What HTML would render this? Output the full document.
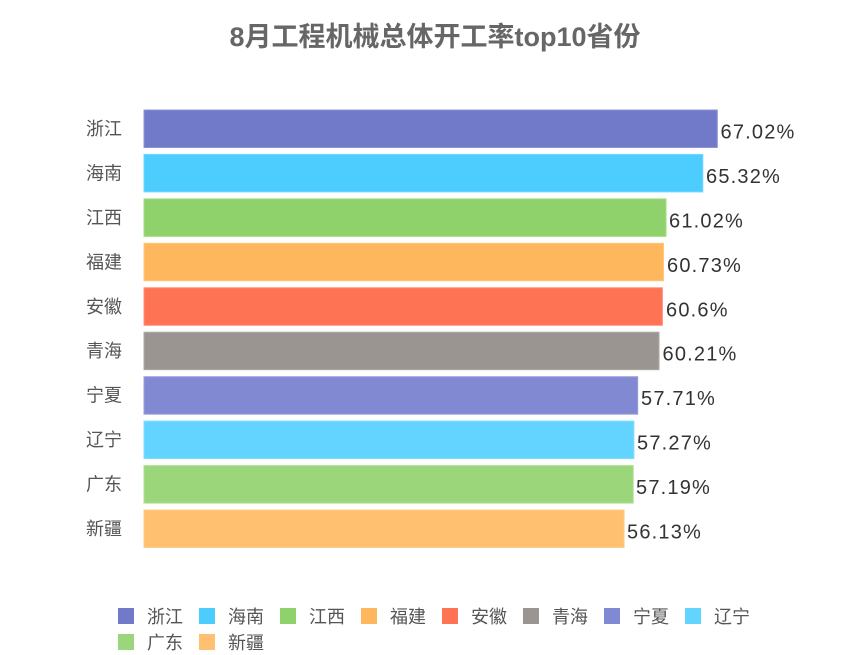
<!DOCTYPE html>
<html>
<head>
<meta charset="utf-8">
<style>
  html, body { margin: 0; padding: 0; background: #ffffff; }
  body { width: 864px; height: 655px; overflow: hidden; }
  svg { display: block; }
  .cat { font-family: "Liberation Sans", "Noto Sans CJK SC", sans-serif; font-size: 18px; fill: #555555; }
  .val { font-family: "Liberation Sans", "Noto Sans CJK SC", sans-serif; font-size: 20px; fill: #333333; letter-spacing: 1.2px; }
  .title { font-family: "Liberation Sans", "Noto Sans CJK SC", sans-serif; font-size: 27px; font-weight: bold; fill: #666666; }
  .leg { font-family: "Liberation Sans", "Noto Sans CJK SC", sans-serif; font-size: 18px; fill: #555555; }
</style>
</head>
<body>
<svg width="864" height="655" viewBox="0 0 864 655" xmlns="http://www.w3.org/2000/svg">
  <text class="title" x="435" y="46" text-anchor="middle">8月工程机械总体开工率top10省份</text>

  <!-- bars -->
  <g stroke-width="1">
    <rect x="144" y="110" width="573.3" height="37.5" fill="#717ac9" stroke="#8d94d6"/>
    <rect x="144" y="154.4" width="558.8" height="37.5" fill="#4dcdfe" stroke="#6fd7fe"/>
    <rect x="144" y="198.9" width="522.0" height="37.5" fill="#8fd16a" stroke="#a6da88"/>
    <rect x="144" y="243.3" width="519.5" height="37.5" fill="#ffb75e" stroke="#ffc67e"/>
    <rect x="144" y="287.8" width="518.4" height="37.5" fill="#ff7355" stroke="#ff8d75"/>
    <rect x="144" y="332.2" width="515.0" height="37.5" fill="#9a9590" stroke="#aeaaa6"/>
    <rect x="144" y="376.7" width="493.7" height="37.5" fill="#8189d2" stroke="#9aa0dc"/>
    <rect x="144" y="421.1" width="489.9" height="37.5" fill="#63d4ff" stroke="#82ddff"/>
    <rect x="144" y="465.6" width="489.2" height="37.5" fill="#9bd67a" stroke="#b0df96"/>
    <rect x="144" y="510" width="480.1" height="37.5" fill="#ffc070" stroke="#ffcd8d"/>
  </g>

  <!-- category labels -->
  <g class="cat" text-anchor="end">
    <text x="122" y="135">浙江</text>
    <text x="122" y="179.4">海南</text>
    <text x="122" y="223.9">江西</text>
    <text x="122" y="268.3">福建</text>
    <text x="122" y="312.8">安徽</text>
    <text x="122" y="357.2">青海</text>
    <text x="122" y="401.7">宁夏</text>
    <text x="122" y="446.1">辽宁</text>
    <text x="122" y="490.6">广东</text>
    <text x="122" y="535">新疆</text>
  </g>

  <!-- value labels -->
  <g class="val">
    <text x="720.5" y="138.5">67.02%</text>
    <text x="706" y="182.9">65.32%</text>
    <text x="669" y="227.4">61.02%</text>
    <text x="667" y="271.8">60.73%</text>
    <text x="666" y="316.3">60.6%</text>
    <text x="662.5" y="360.7">60.21%</text>
    <text x="641" y="405.2">57.71%</text>
    <text x="637" y="449.6">57.27%</text>
    <text x="636" y="494.1">57.19%</text>
    <text x="627" y="538.5">56.13%</text>
  </g>

  <!-- legend -->
  <g>
    <rect x="118" y="608" width="16" height="16" fill="#717ac9"/>
    <text class="leg" x="147" y="623">浙江</text>
    <rect x="199" y="608" width="16" height="16" fill="#4dcdfe"/>
    <text class="leg" x="228" y="623">海南</text>
    <rect x="280" y="608" width="16" height="16" fill="#8fd16a"/>
    <text class="leg" x="309" y="623">江西</text>
    <rect x="361" y="608" width="16" height="16" fill="#ffb75e"/>
    <text class="leg" x="390" y="623">福建</text>
    <rect x="442" y="608" width="16" height="16" fill="#ff7355"/>
    <text class="leg" x="471" y="623">安徽</text>
    <rect x="523" y="608" width="16" height="16" fill="#9a9590"/>
    <text class="leg" x="552" y="623">青海</text>
    <rect x="604" y="608" width="16" height="16" fill="#8189d2"/>
    <text class="leg" x="633" y="623">宁夏</text>
    <rect x="685" y="608" width="16" height="16" fill="#63d4ff"/>
    <text class="leg" x="714" y="623">辽宁</text>

    <rect x="118" y="634" width="16" height="16" fill="#9bd67a"/>
    <text class="leg" x="147" y="649">广东</text>
    <rect x="199" y="634" width="16" height="16" fill="#ffc070"/>
    <text class="leg" x="228" y="649">新疆</text>
  </g>
</svg>
</body>
</html>
